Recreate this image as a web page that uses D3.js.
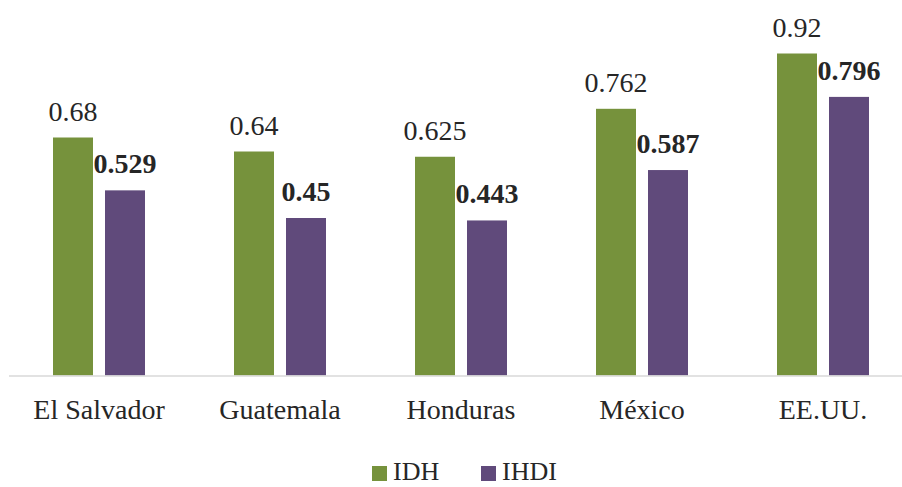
<!DOCTYPE html>
<html>
<head>
<meta charset="utf-8">
<script src="https://cdn.jsdelivr.net/npm/d3@7"></script>
<style>
  body { margin: 0; background: #fff; }
  svg { display: block; }
</style>
</head>
<body>
<div id="canvas"></div>
<script>
const width = 902;
const height = 487;
const fontName = 'Liberation Serif';

// data
const countries = ['El Salvador', 'Guatemala', 'Honduras', 'México', 'EE.UU.'];
const series = ['IDH', 'IHDI'];
const idh = [0.68, 0.64, 0.625, 0.762, 0.92];
const ihdi = [0.529, 0.45, 0.443, 0.587, 0.796];
const idhLabels = ['0.68', '0.64', '0.625', '0.762', '0.92'];
const ihdiLabels = ['0.529', '0.45', '0.443', '0.587', '0.796'];
const colors = ['#76923c', '#604a7b'];

const rows = countries.map((c, i) => ({
  country: c,
  values: [
    {key: 'IDH', v: idh[i], label: idhLabels[i]},
    {key: 'IHDI', v: ihdi[i], label: ihdiLabels[i]}
  ]
}));

const svg = d3.select('#canvas').append('svg')
  .attr('width', width)
  .attr('height', height);

const x0 = d3.scaleBand().domain(countries).range([8.5, 913.5]).padding(0);
const x1 = d3.scaleBand().domain(series).range([44.5, 136.5])
  .paddingInner(12 / 52).paddingOuter(0);
const y = d3.scaleLinear().domain([0, 1]).range([375.5, 25.5]);
const color = d3.scaleOrdinal().domain(series).range(colors);

const groups = svg.append('g').selectAll('g')
  .data(rows)
  .join('g')
  .attr('transform', d => `translate(${x0(d.country)},0)`);

groups.selectAll('rect')
  .data(d => d.values)
  .join('rect')
  .attr('x', d => x1(d.key))
  .attr('y', d => y(d.v))
  .attr('width', x1.bandwidth())
  .attr('height', d => y(0) - y(d.v))
  .attr('fill', d => color(d.key));

groups.selectAll('text.val')
  .data(d => d.values)
  .join('text')
  .attr('class', 'val')
  .attr('x', d => x1(d.key) + x1.bandwidth() / 2)
  .attr('y', d => y(d.v) - 17)
  .attr('text-anchor', 'middle')
  .attr('font-family', fontName)
  .attr('font-size', 28)
  .attr('font-weight', d => d.key === 'IHDI' ? 'bold' : 'normal')
  .attr('fill', '#262626')
  .text(d => d.label);

// category axis
const xAxis = d3.axisBottom(x0).tickSize(0).tickPadding(24);
const axisG = svg.append('g')
  .attr('transform', `translate(0,${y(0)})`)
  .call(xAxis)
  .attr('font-family', fontName);
axisG.select('.domain').attr('stroke', '#d9d9d9').attr('stroke-width', 1.5);
axisG.selectAll('text')
  .attr('font-family', fontName)
  .attr('font-size', 28)
  .attr('fill', '#262626');

// legend
const legend = svg.append('g').attr('transform', 'translate(372,466)');
const items = legend.selectAll('g')
  .data(series)
  .join('g')
  .attr('transform', (d, i) => `translate(${i * 109},0)`);
items.append('rect')
  .attr('width', 15)
  .attr('height', 15)
  .attr('fill', d => color(d));
items.append('text')
  .attr('x', 21)
  .attr('y', 14)
  .attr('font-family', fontName)
  .attr('font-size', 26)
  .attr('fill', '#262626')
  .text(d => d);
</script>
</body>
</html>
